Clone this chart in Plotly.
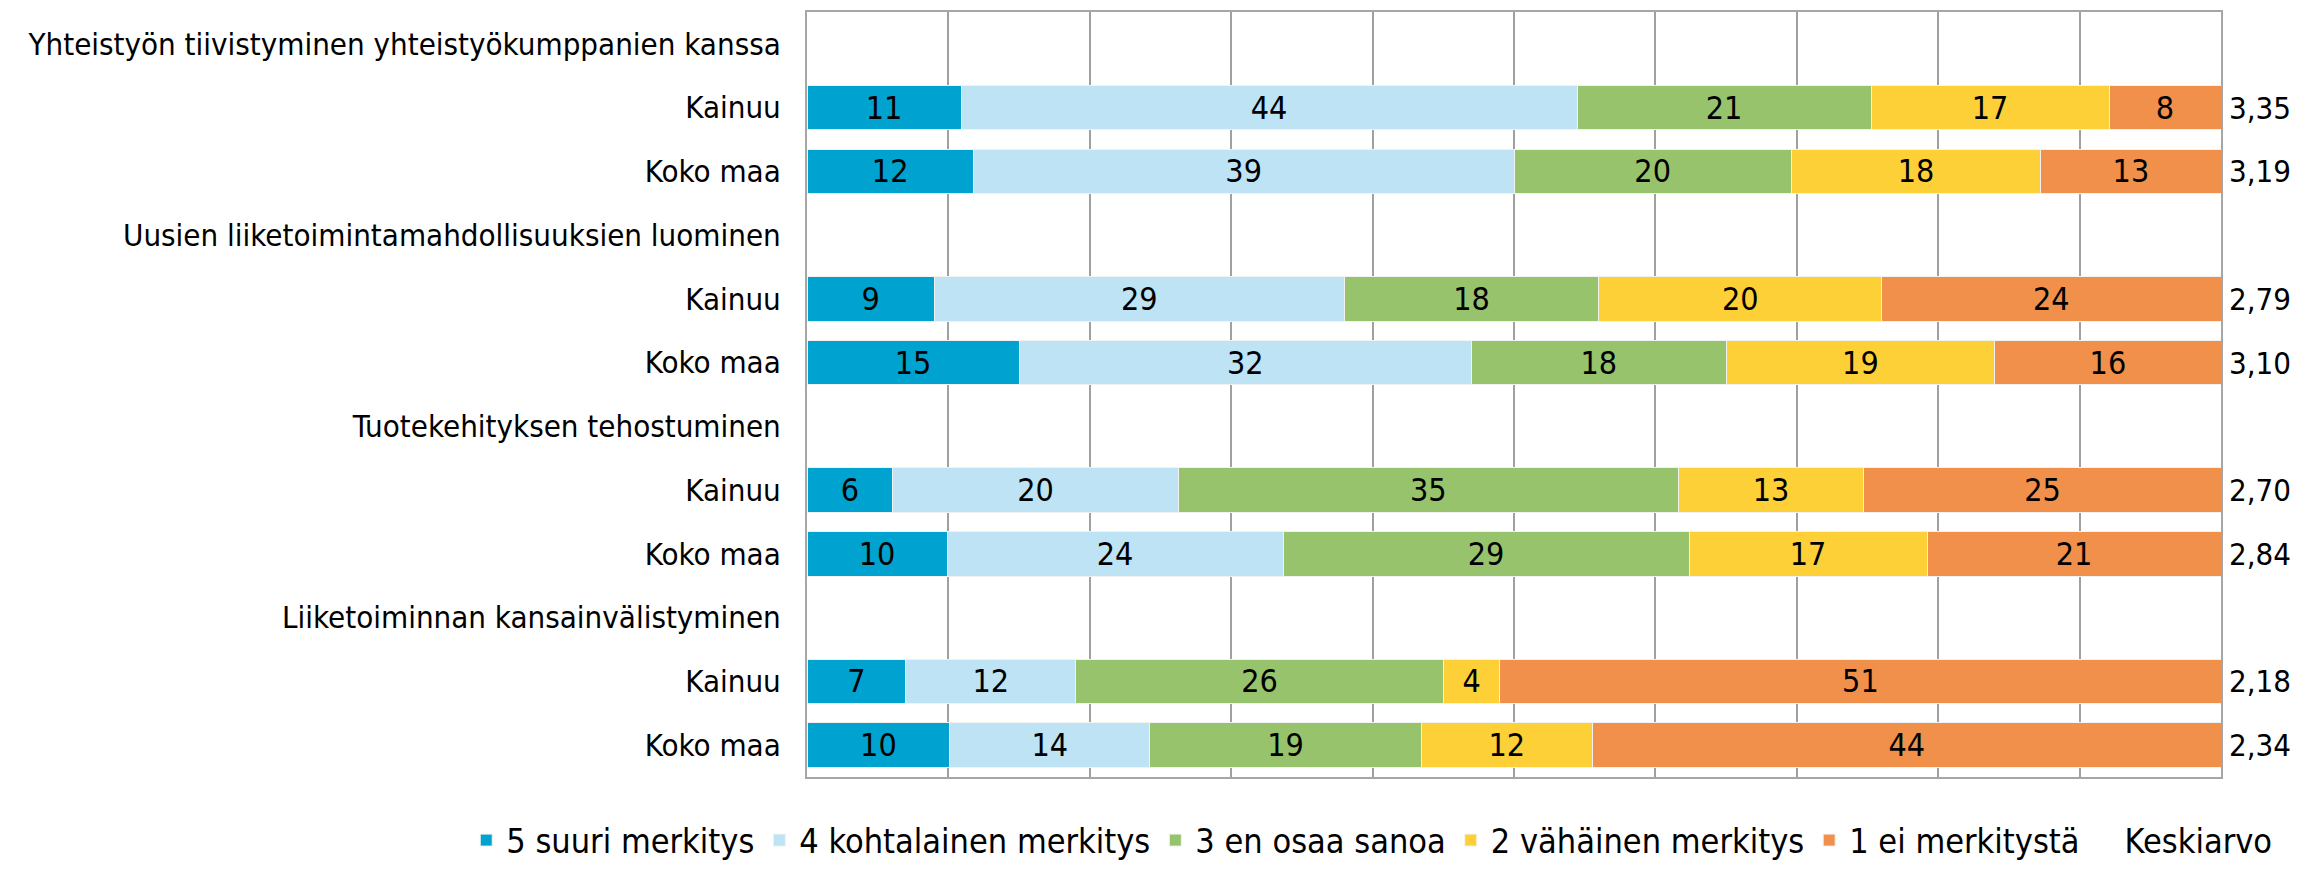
import plotly.graph_objects as go

# Rows from top to bottom
row_labels = [
    "Yhteistyön tiivistyminen yhteistyökumppanien kanssa", "Kainuu", "Koko maa",
    "Uusien liiketoimintamahdollisuuksien luominen", "Kainuu", "Koko maa",
    "Tuotekehityksen tehostuminen", "Kainuu", "Koko maa",
    "Liiketoiminnan kansainvälistyminen", "Kainuu", "Koko maa",
]
# None = header row without bars
s5 = [None, 11, 12, None, 9, 15, None, 6, 10, None, 7, 10]
s4 = [None, 44, 39, None, 29, 32, None, 20, 24, None, 12, 14]
s3 = [None, 21, 20, None, 18, 18, None, 35, 29, None, 26, 19]
s2 = [None, 17, 18, None, 20, 19, None, 13, 17, None, 4, 12]
s1 = [None, 8, 13, None, 24, 16, None, 25, 21, None, 51, 44]
keskiarvo = [None, "3,35", "3,19", None, "2,79", "3,10", None, "2,70", "2,84", None, "2,18", "2,34"]

series_names = ["5 suuri merkitys", "4 kohtalainen merkitys", "3 en osaa sanoa",
                "2 vähäinen merkitys", "1 ei merkitystä"]
series_vals = [s5, s4, s3, s2, s1]
colors = ["#00A2CF", "#BDE3F5", "#96C36C", "#FDD037", "#F0904A"]

FONT = "DejaVu Sans Condensed"
FS = 31
ypos = list(range(len(row_labels)))

fig = go.Figure()
for name, vals, col in zip(series_names, series_vals, colors):
    fig.add_trace(go.Bar(
        y=ypos, x=vals, name=name, orientation="h",
        marker=dict(color=col, line=dict(color="#F2F2F2", width=1)),
        text=[("" if v is None else str(v)) for v in vals],
        textposition="inside", insidetextanchor="middle", textangle=0,
        textfont=dict(color="black", size=32, family=FONT),
        width=0.70, constraintext="none", hoverinfo="x+name",
    ))

# Legend entry for Keskiarvo (no visible marker)
fig.add_trace(go.Bar(y=[None], x=[None], orientation="h", name="Keskiarvo",
                     marker=dict(color="rgba(0,0,0,0)", line=dict(width=0))))

# Keskiarvo values just right of the plot area
for y, k in zip(ypos, keskiarvo):
    if k:
        fig.add_annotation(x=100, y=y, xref="x", yref="y", text=k, showarrow=False,
                           xanchor="left", yanchor="middle", xshift=6,
                           font=dict(size=FS, family=FONT, color="black"))

fig.update_layout(
    barmode="stack", barnorm="percent",
    width=2305, height=866,
    margin=dict(l=799, r=92, t=4, b=80),
    plot_bgcolor="white", paper_bgcolor="white",
    font=dict(family=FONT, size=FS, color="black"),
    xaxis=dict(range=[0, 100], dtick=10, showgrid=True, gridcolor="#A0A0A0", gridwidth=1.5,
               showticklabels=False, zeroline=False, showline=True, linecolor="#A6A6A6",
               linewidth=2, mirror=True, ticks="", automargin=False),
    yaxis=dict(range=[11.5, -0.5], tickmode="array", tickvals=ypos, ticktext=row_labels,
               showgrid=False, zeroline=False, showline=True, linecolor="#A6A6A6",
               linewidth=2, mirror=True, ticks="", ticklabelstandoff=18, automargin=False,
               tickfont=dict(size=FS, family=FONT)),
    legend=dict(orientation="h", x=-0.241, xanchor="left", y=-0.083, yanchor="middle",
                font=dict(size=34, family=FONT), traceorder="normal"),
    bargap=0.3,
)

fig.write_html("out.html")
